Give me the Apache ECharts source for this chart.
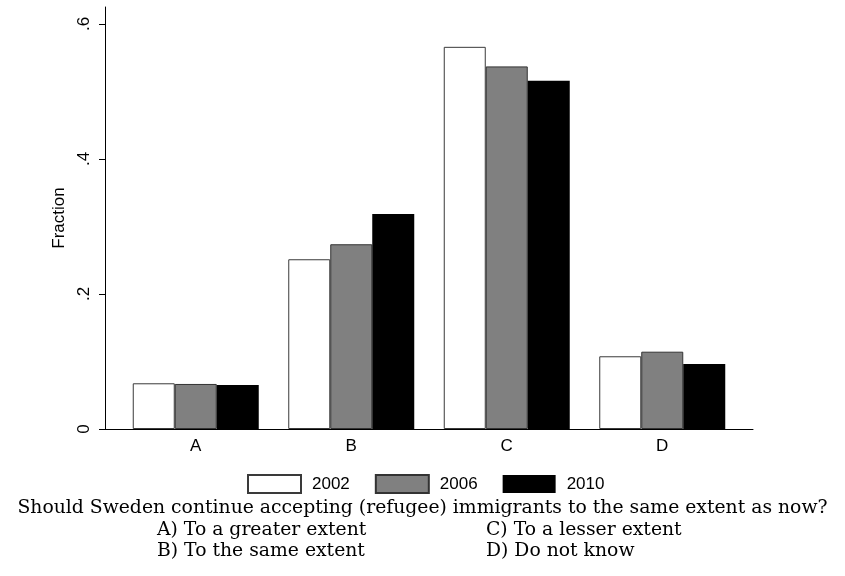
<!DOCTYPE html>
<html>
<head>
<meta charset="utf-8">
<script src="https://cdn.jsdelivr.net/npm/echarts@6/dist/echarts.min.js"></script>
<style>html,body{margin:0;padding:0;background:#fff}#c{width:845px;height:576px}</style>
</head>
<body>
<div id="c"></div>
<script>
const categories = ['A', 'B', 'C', 'D'];
const years = ['2002', '2006', '2010'];
const v2002 = [0.0677, 0.2514, 0.566, 0.1077];
const v2006 = [0.0667, 0.2736, 0.537, 0.1145];
const v2010 = [0.065, 0.3185, 0.5156, 0.0963];
const yTickValues = [0, 0.2, 0.4, 0.6];
const yTickLabels = ['0', '.2', '.4', '.6'];
const questionText = 'Should Sweden continue accepting (refugee) immigrants to the same extent as now?';
const answerTexts = ['A) To a greater extent', 'B) To the same extent', 'C) To a lesser extent', 'D) Do not know'];

const sans = 'Liberation Sans, Arial, sans-serif';
const serif = 'DejaVu Serif, serif';
const chart = echarts.init(document.getElementById('c'), null, {renderer: 'canvas'});

const styles = [
  {color: '#ffffff', borderColor: '#3a3a3a', borderWidth: 1},
  {color: '#808080', borderColor: '#333333', borderWidth: 1},
  {color: '#000000', borderColor: '#000000', borderWidth: 0}
];
const vals = [v2002, v2006, v2010];

const titleStyle = {fontFamily: serif, fontSize: 18.8, fontWeight: 'normal', color: '#000'};
chart.setOption({
  animation: false,
  backgroundColor: '#fff',
  title: [
    {text: questionText, left: 'center', top: 499, textStyle: titleStyle, padding: 0},
    {text: answerTexts[0], left: 157, top: 521, textStyle: titleStyle, padding: 0},
    {text: answerTexts[1], left: 157, top: 542, textStyle: titleStyle, padding: 0},
    {text: answerTexts[2], left: 486, top: 521, textStyle: titleStyle, padding: 0},
    {text: answerTexts[3], left: 486, top: 542, textStyle: titleStyle, padding: 0}
  ],
  legend: {
    data: years,
    left: 247, top: 474,
    padding: 0,
    itemWidth: 53, itemHeight: 18,
    itemGap: 25,
    icon: 'rect',
    textStyle: {fontFamily: sans, fontSize: 17, color: '#000', padding: [0, 0, 0, 6]}
  },
  grid: [
    {left: 118, right: 105, top: 7, bottom: 147, containLabel: false},
    {left: 105, right: 92, top: 7, bottom: 147, containLabel: false}
  ],
  xAxis: [
    {
      type: 'category', data: categories, gridIndex: 0,
      axisLine: {show: false}, axisTick: {show: false},
      axisLabel: {fontFamily: sans, fontSize: 17, color: '#000', margin: 9}
    },
    {
      type: 'value', gridIndex: 1, min: 0, max: 1,
      axisLine: {show: true, lineStyle: {color: '#000', width: 1}},
      axisTick: {show: false}, axisLabel: {show: false}, splitLine: {show: false}
    }
  ],
  yAxis: [
    {
      type: 'value', gridIndex: 0, min: 0, max: 0.625,
      offset: 13,
      name: 'Fraction', nameLocation: 'middle', nameRotate: 90, nameGap: 36,
      nameTextStyle: {fontFamily: sans, fontSize: 17, color: '#000'},
      axisLine: {show: true, lineStyle: {color: '#000', width: 1}},
      axisTick: {show: true, length: 6, lineStyle: {color: '#000'}, customValues: yTickValues},
      axisLabel: {rotate: 90, fontFamily: sans, fontSize: 17, color: '#000', margin: 12,
        customValues: yTickValues,
        formatter: v => { const i = yTickValues.findIndex(t => Math.abs(t - v) < 1e-6); return i >= 0 ? yTickLabels[i] : ''; }},
      splitLine: {show: false}
    },
    {type: 'value', gridIndex: 1, show: false, min: 0, max: 1}
  ],
  series: years.map((y, i) => ({
    name: y, type: 'bar', xAxisIndex: 0, yAxisIndex: 0,
    data: vals[i], barWidth: 42, barGap: '0%',
    itemStyle: styles[i]
  }))
});
</script>
</body>
</html>
